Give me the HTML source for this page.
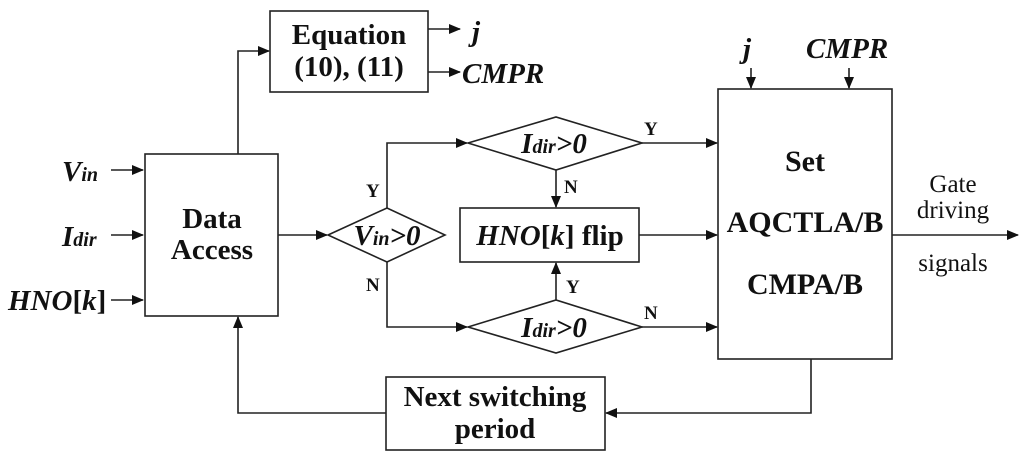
<!DOCTYPE html>
<html><head><meta charset="utf-8"><style>
html,body{margin:0;padding:0;background:#fff;}
svg{display:block;}
text{font-family:"Liberation Serif",serif;fill:#111;}
.b{font-weight:bold;}
</style></head><body>
<svg width="1024" height="466" viewBox="0 0 1024 466" xmlns="http://www.w3.org/2000/svg">
<defs><marker id="a" markerWidth="12" markerHeight="10" refX="11" refY="5" orient="auto" markerUnits="userSpaceOnUse"><path d="M0,0 L12,5 L0,10 Z" fill="#111"/></marker></defs>
<g stroke="#222" stroke-width="1.6" fill="none">
<rect x="270" y="11" width="158" height="81"/>
<rect x="145" y="154" width="133" height="162"/>
<polygon points="328,235 387,208 445,235 387,262"/>
<polygon points="468,143 556,117 642,143 556,170"/>
<polygon points="468,327 556,300 642,327 556,353"/>
<rect x="460" y="208" width="179" height="54"/>
<rect x="718" y="89" width="174" height="270"/>
<rect x="386" y="377" width="219" height="73"/>
<g marker-end="url(#a)">
<path d="M428,29 H460"/><path d="M428,72 H460"/>
<path d="M111,170 H143"/><path d="M111,235 H143"/><path d="M111,300 H143"/>
<path d="M238,154 V51 H269"/>
<path d="M278,235 H327"/>
<path d="M387,208 V143 H467"/>
<path d="M387,262 V327 H467"/>
<path d="M642,143 H717"/><path d="M639,235 H717"/><path d="M642,327 H717"/>
<path d="M556,170 V207"/><path d="M556,300 V263"/>
<path d="M751,68 V88"/><path d="M849,68 V88"/>
<path d="M892,235 H1018"/>
<path d="M811,359 V413 H606"/>
<path d="M386,413 H238 V317"/>
</g></g>
<g class="b" font-size="29" text-anchor="middle">
<text x="349" y="44" class="b">Equation</text>
<text x="349" y="76" class="b">(10), (11)</text>
<text x="212" y="228" class="b">Data</text>
<text x="212" y="259" class="b">Access</text>
<text x="805" y="171" class="b" font-size="30">Set</text>
<text x="805" y="232" class="b" font-size="30">AQCTLA/B</text>
<text x="805" y="294" class="b" font-size="30">CMPA/B</text>
<text x="495" y="406" class="b">Next switching</text>
<text x="495" y="438" class="b">period</text>
<text x="550" y="245" class="b"><tspan font-style="italic">HNO</tspan>[<tspan font-style="italic">k</tspan>] flip</text>
</g>
<g class="b" font-style="italic" font-size="29">
<text x="472" y="41" class="b">j</text>
<text x="462" y="83" class="b">CMPR</text>
<text x="743" y="58" class="b">j</text>
<text x="806" y="58" class="b">CMPR</text>
<text x="62" y="181" class="b">V<tspan font-size="20">in</tspan></text>
<text x="62" y="246" class="b">I<tspan font-size="20">dir</tspan></text>
<text x="8" y="310" class="b">HNO<tspan font-style="normal">[</tspan>k<tspan font-style="normal">]</tspan></text>
<g text-anchor="middle">
<text x="387" y="245" class="b">V<tspan font-size="20">in</tspan>&gt;0</text>
<text x="554" y="153" class="b">I<tspan font-size="20">dir</tspan>&gt;0</text>
<text x="554" y="337" class="b">I<tspan font-size="20">dir</tspan>&gt;0</text>
</g>
</g>
<g class="b" font-size="19">
<text x="366" y="197" class="b">Y</text>
<text x="366" y="291" class="b">N</text>
<text x="644" y="135" class="b">Y</text>
<text x="564" y="193" class="b">N</text>
<text x="566" y="293" class="b">Y</text>
<text x="644" y="319" class="b">N</text>
</g>
<g font-size="25" text-anchor="middle">
<text x="953" y="192">Gate</text>
<text x="953" y="218">driving</text>
<text x="953" y="271">signals</text>
</g>
</svg>
</body></html>
